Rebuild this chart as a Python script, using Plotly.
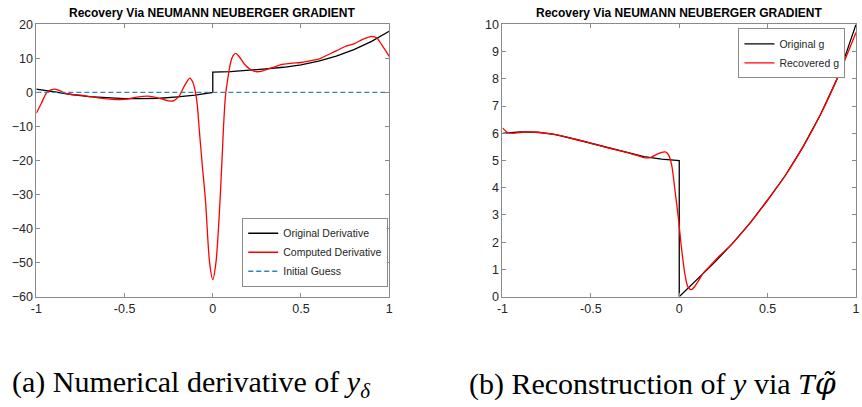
import plotly.graph_objects as go

# ---------------- data: left panel (derivative) ----------------
orig_deriv_x = [-1.0, -0.9, -0.8, -0.7, -0.6, -0.5, -0.4, -0.3, -0.2, -0.1, 0.0,
                0.0, 0.1, 0.2, 0.3, 0.4, 0.5, 0.6, 0.7, 0.8, 0.9, 1.0]
orig_deriv_y = [1.0, 0.1, -0.6, -1.2, -1.6, -1.8, -1.8, -1.7, -1.3, -0.8, 0.0,
                6.0, 6.1, 6.4, 6.9, 7.4, 8.1, 9.2, 10.7, 12.6, 15.0, 18.0]

comp_deriv_x = [-1.0, -0.97, -0.94, -0.9, -0.87, -0.84, -0.8, -0.75, -0.7, -0.65,
                -0.6, -0.55, -0.5, -0.46, -0.42, -0.37, -0.33, -0.29, -0.25, -0.22,
                -0.19, -0.16, -0.13, -0.115, -0.1, -0.088, -0.078, -0.06, -0.041, -0.018,
                0.0, 0.018, 0.043, 0.061, 0.072, 0.085, 0.1, 0.115, 0.13, 0.15,
                0.18, 0.21, 0.245, 0.28, 0.32, 0.36, 0.4, 0.45, 0.5, 0.55,
                0.6, 0.65, 0.7, 0.75, 0.8, 0.85, 0.9, 0.93, 0.96, 1.0]
comp_deriv_y = [-6.1, -3.0, 0.0, 1.0, 0.6, -0.2, -0.6, -0.8, -1.2, -1.6,
                -1.9, -2.1, -2.0, -1.7, -1.3, -1.1, -1.4, -1.9, -2.5, -2.4,
                -1.0, 2.0, 4.2, 3.2, 0.5, -3.5, -10.0, -21.0, -32.0, -50.0,
                -55.0, -50.0, -30.0, -10.0, -1.0, 4.0, 8.5, 10.8, 11.5, 10.5,
                8.3, 6.9, 6.1, 6.3, 7.0, 7.7, 8.3, 8.6, 8.8, 9.3,
                9.8, 11.0, 12.2, 13.5, 14.3, 15.6, 16.5, 16.0, 13.8, 10.6]

guess_x = [-1.0, 1.0]
guess_y = [0.0, 0.0]

# ---------------- data: right panel (reconstruction) ----------------
orig_g_x = [-1.0, -0.9, -0.8, -0.7, -0.6, -0.5, -0.4, -0.3, -0.2, -0.1, 0.0,
            0.0, 0.1, 0.2, 0.3, 0.4, 0.5, 0.6, 0.7, 0.8, 0.9, 1.0]
orig_g_y = [6.0, 6.05, 6.04, 5.95, 5.8, 5.64, 5.47, 5.3, 5.14, 5.05, 5.0,
            0.0, 0.62, 1.26, 1.95, 2.7, 3.55, 4.45, 5.5, 6.7, 8.1, 10.0]

rec_g_x = [-1.0, -0.97, -0.94, -0.9, -0.85, -0.8, -0.7, -0.6, -0.5, -0.4,
           -0.3, -0.23, -0.19, -0.16, -0.13, -0.1, -0.075, -0.06, -0.043, -0.024,
           -0.006, 0.013, 0.032, 0.05, 0.069, 0.09, 0.11, 0.14, 0.17, 0.22,
           0.3, 0.4, 0.5, 0.6, 0.7, 0.8, 0.9, 0.95, 1.0]
rec_g_y = [6.2, 6.03, 6.0, 6.03, 6.05, 6.03, 5.95, 5.8, 5.63, 5.46,
           5.3, 5.17, 5.1, 5.12, 5.22, 5.3, 5.31, 5.2, 4.84, 3.9,
           2.95, 1.77, 0.83, 0.35, 0.26, 0.4, 0.6, 0.9, 1.1, 1.45,
           1.95, 2.7, 3.55, 4.45, 5.5, 6.7, 8.1, 8.9, 9.7]

left_yticks = [-60, -50, -40, -30, -20, -10, 0, 10, 20]
right_yticks = [0, 1, 2, 3, 4, 5, 6, 7, 8, 9, 10]
xticks = [-1, -0.5, 0, 0.5, 1]
xtick_text = ["-1", "-0.5", "0", "0.5", "1"]

title_text = "Recovery Via NEUMANN NEUBERGER GRADIENT"
caption_a = "(a) Numerical derivative of <i>y</i><sub><i>δ</i></sub>"
caption_b = ("(b) Reconstruction of <i>y</i> via <i>T</i>"
             "<span style=\"font-family:'DejaVu Serif'; font-style:italic\">φ̃</span>")

W, H = 862, 407
BLACK = "#000000"
RED = "#ff0000"
BLUE = "#2b86c4"
AXC = "#8a8a8a"
TXT = "#262626"

fig = go.Figure()

fig.add_trace(go.Scatter(x=orig_deriv_x, y=orig_deriv_y, mode="lines", name="Original Derivative",
                         line=dict(color=BLACK, width=1.3), xaxis="x", yaxis="y", legend="legend"))
fig.add_trace(go.Scatter(x=comp_deriv_x, y=comp_deriv_y, mode="lines", name="Computed Derivative",
                         line=dict(color=RED, width=1.3, shape="spline", smoothing=0.8),
                         xaxis="x", yaxis="y", legend="legend"))
fig.add_trace(go.Scatter(x=guess_x, y=guess_y, mode="lines", name="Initial Guess",
                         line=dict(color=BLUE, width=1.3, dash="5px,3px"),
                         xaxis="x", yaxis="y", legend="legend"))

fig.add_trace(go.Scatter(x=orig_g_x, y=orig_g_y, mode="lines", name="Original g",
                         line=dict(color=BLACK, width=1.3), xaxis="x2", yaxis="y2", legend="legend2"))
fig.add_trace(go.Scatter(x=rec_g_x, y=rec_g_y, mode="lines", name="Recovered g",
                         line=dict(color=RED, width=1.3, shape="spline", smoothing=0.8),
                         xaxis="x2", yaxis="y2", legend="legend2"))

ydom = [(H - 300) / H, (H - 18) / H]

axis_common = dict(showline=True, linecolor=AXC, linewidth=1, mirror="ticks",
                   ticks="inside", ticklen=4, tickcolor=AXC, showgrid=False, zeroline=False,
                   tickfont=dict(family="Liberation Sans, Arial", size=12.5, color=TXT))

fig.update_layout(
    width=W, height=H,
    margin=dict(l=0, r=0, t=0, b=0),
    paper_bgcolor="white", plot_bgcolor="white",
    showlegend=True,
    xaxis=dict(domain=[30.7 / W, 387.7 / W], range=[-1, 1], tickvals=xticks, ticktext=xtick_text,
               anchor="y", **axis_common),
    yaxis=dict(domain=ydom, range=[-60, 20], tickvals=left_yticks, anchor="x", **axis_common),
    xaxis2=dict(domain=[502.3 / W, 860 / W], range=[-1, 1], tickvals=xticks, ticktext=xtick_text,
                anchor="y2", **axis_common),
    yaxis2=dict(domain=ydom, range=[0, 10], tickvals=right_yticks, anchor="x2", **axis_common),
    legend=dict(x=386.7 / W, xanchor="right", y=(H - 254) / H, yanchor="middle",
                bgcolor="white", bordercolor=AXC, borderwidth=1,
                font=dict(family="Liberation Sans, Arial", size=10.5, color=TXT),
                itemwidth=30, tracegroupgap=0),
    legend2=dict(x=849.3 / W, xanchor="right", y=(H - 48) / H, yanchor="middle",
                 bgcolor="white", bordercolor=AXC, borderwidth=1,
                 font=dict(family="Liberation Sans, Arial", size=10.5, color=TXT),
                 itemwidth=30, tracegroupgap=0),
)

title_font = dict(family="Liberation Sans, Arial", size=12, color="#000000", weight="bold")
fig.add_annotation(text=title_text, xref="x domain", yref="paper", x=0.5, y=(H - 6) / H,
                   xanchor="center", yanchor="middle", showarrow=False, font=title_font)
fig.add_annotation(text=title_text, xref="x2 domain", yref="paper", x=0.5, y=(H - 6) / H,
                   xanchor="center", yanchor="middle", showarrow=False, font=title_font)

cap_font = dict(family="Liberation Serif, Times New Roman, serif", size=30, color="#000000")
fig.add_annotation(text=caption_a, xref="paper", yref="paper", x=4 / W, y=(H - 390) / H,
                   xanchor="left", yanchor="middle", showarrow=False, font=cap_font)
fig.add_annotation(text=caption_b, xref="paper", yref="paper", x=466 / W, y=(H - 390) / H,
                   xanchor="left", yanchor="middle", showarrow=False, font=cap_font)

fig.write_html("out.html")
